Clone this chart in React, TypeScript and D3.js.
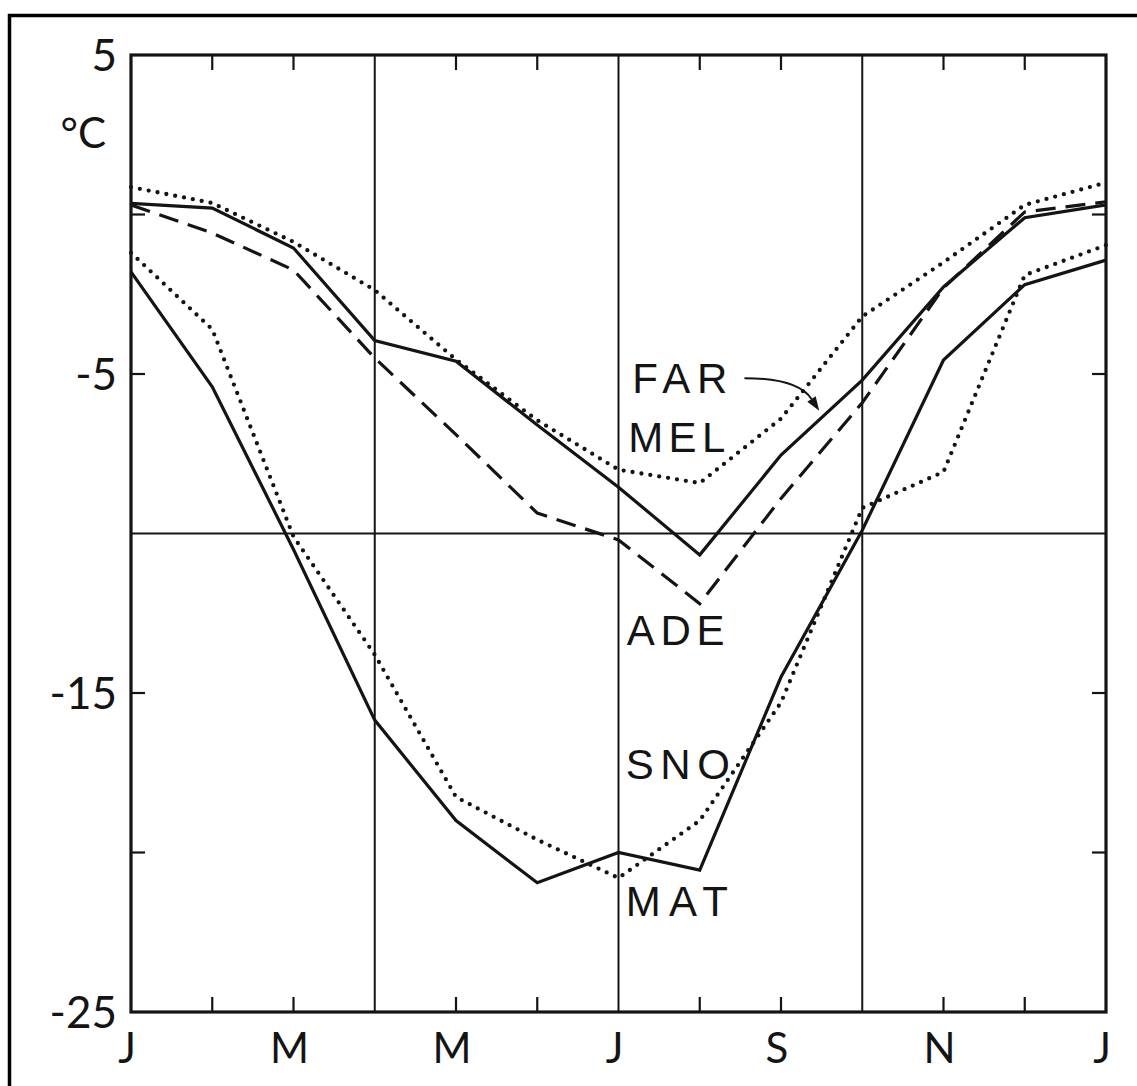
import React from "react";
import * as d3 from "d3";

// Months along the x axis (Jan .. Jan)
const months = ["J", "F", "M", "A", "M", "J", "J", "A", "S", "O", "N", "D", "J"];
const monthLabelIdx = [0, 2, 4, 6, 8, 10, 12];
const gridMonths = [3, 6, 9];
const minorMonthTicks = [1, 2, 4, 5, 7, 8, 10, 11];

// y axis
const yLabelValues = [5, -5, -15, -25];
const yTickValues = [0, -5, -15, -20];
const gridValues = [-10];

// Series (monthly mean temperature, °C)
const far = [0.35, 0.2, -1.05, -3.95, -4.6, -6.6, -8.55, -10.67, -7.54, -5.19, -2.27, -0.1, 0.3];
const mel = [0.86, 0.36, -0.86, -2.37, -4.55, -6.45, -8.0, -8.42, -6.4, -3.2, -1.5, 0.3, 1.0];
const ade = [0.3, -0.58, -1.74, -4.5, -6.9, -9.36, -10.2, -12.2, -8.9, -5.9, -2.3, 0.08, 0.4];
const sno = [-1.2, -3.6, -10.1, -13.8, -18.26, -19.6, -20.8, -19.0, -15.3, -9.2, -8.07, -1.9, -0.96];
const mat = [-1.8, -5.4, -10.5, -15.85, -19.0, -20.95, -20.0, -20.55, -14.5, -9.9, -4.56, -2.2, -1.43];

// Station labels: [month position, value at baseline]
const labelNames = ["FAR", "MEL", "ADE", "SNO", "MAT"];
const labelMonth = [6.17, 6.12, 6.1, 6.09, 6.09];
const labelValue = [-5.6, -7.45, -13.5, -17.7, -22.0];
const labelWidths = [95, 97, 98, 104, 102];

// FAR arrow (month, value) start / controls / end
const arrowPts = [
  [7.55, -5.13],
  [7.95, -5.13],
  [8.25, -5.3],
  [8.47, -6.15],
];

const W = 1137;
const H = 1086;

export default function App() {
  const x = d3.scaleLinear().domain([0, 12]).range([131, 1106]);
  const y = d3.scaleLinear().domain([-25, 5]).range([1012, 55]);
  const line = d3
    .line<number>()
    .x((_, i) => x(i))
    .y((d) => y(d));

  const font = "Lato, 'DejaVu Sans', sans-serif";
  const labelFont = "'Liberation Sans', Arial, sans-serif";
  const ink = "#141414";

  const [a0, a1, a2, a3] = arrowPts;
  const ex = x(a3[0]);
  const ey = y(a3[1]);
  const dx = ex - x(a2[0]);
  const dy = ey - y(a2[1]);
  const len = Math.hypot(dx, dy);
  const ux = dx / len;
  const uy = dy / len;
  const hl = 14;
  const hw = 5;
  const bx = ex - ux * hl;
  const by = ey - uy * hl;
  const head = `M${ex},${ey} L${bx - uy * hw},${by + ux * hw} L${bx + uy * hw},${by - ux * hw} Z`;
  const arrowCurve = `M${x(a0[0])},${y(a0[1])} C${x(a1[0])},${y(a1[1])} ${x(a2[0])},${y(a2[1])} ${bx},${by}`;

  return (
    <svg
      width={W}
      height={H}
      viewBox={`0 0 ${W} ${H}`}
      style={{ position: "absolute", left: 0, top: 0, background: "#fff" }}
    >
      <rect x={0} y={0} width={W} height={H} fill="#fff" />
      {/* outer frame (cropped at right and bottom) */}
      <path d={`M9.5,${H} V15.5 H${W}`} fill="none" stroke="#000" strokeWidth={3.5} />

      {/* grid lines */}
      {gridMonths.map((m) => (
        <line key={"gx" + m} x1={x(m)} x2={x(m)} y1={y(5)} y2={y(-25)} stroke={ink} strokeWidth={2} />
      ))}
      {gridValues.map((v) => (
        <line key={"gy" + v} x1={x(0)} x2={x(12)} y1={y(v)} y2={y(v)} stroke={ink} strokeWidth={2} />
      ))}

      {/* ticks */}
      {minorMonthTicks.map((m) => (
        <g key={"tm" + m}>
          <line x1={x(m)} x2={x(m)} y1={y(5)} y2={y(5) + 15} stroke={ink} strokeWidth={2.2} />
          <line x1={x(m)} x2={x(m)} y1={y(-25)} y2={y(-25) - 15} stroke={ink} strokeWidth={2.2} />
        </g>
      ))}
      {yTickValues.map((v) => (
        <g key={"tv" + v}>
          <line x1={x(0)} x2={x(0) + 14} y1={y(v)} y2={y(v)} stroke={ink} strokeWidth={2.2} />
          <line x1={x(12)} x2={x(12) - 14} y1={y(v)} y2={y(v)} stroke={ink} strokeWidth={2.2} />
        </g>
      ))}

      {/* plot border */}
      <rect
        x={x(0)}
        y={y(5)}
        width={x(12) - x(0)}
        height={y(-25) - y(5)}
        fill="none"
        stroke={ink}
        strokeWidth={3.2}
      />

      {/* series */}
      <path d={line(mel) || ""} fill="none" stroke={ink} strokeWidth={4.3} strokeDasharray="0 9" strokeLinecap="round" />
      <path d={line(sno) || ""} fill="none" stroke={ink} strokeWidth={4.3} strokeDasharray="0 9" strokeLinecap="round" />
      <path d={line(ade) || ""} fill="none" stroke={ink} strokeWidth={3.2} strokeDasharray="20 10" />
      <path d={line(far) || ""} fill="none" stroke={ink} strokeWidth={3.2} strokeLinejoin="miter" />
      <path d={line(mat) || ""} fill="none" stroke={ink} strokeWidth={3.2} strokeLinejoin="miter" />

      {/* FAR arrow */}
      <path d={arrowCurve} fill="none" stroke={ink} strokeWidth={2} />
      <path d={head} fill={ink} />

      {/* station labels */}
      {labelNames.map((n, i) => (
        <text
          key={n}
          x={x(labelMonth[i])}
          y={y(labelValue[i])}
          fontFamily={labelFont}
          fontSize={42}
          fill={ink}
          textLength={labelWidths[i]}
          lengthAdjust="spacing"
        >
          {n}
        </text>
      ))}

      {/* y axis labels */}
      {yLabelValues.map((v) => (
        <text
          key={"yl" + v}
          x={x(0) - 14}
          y={y(v) + 16}
          textAnchor="end"
          fontFamily={font}
          fontSize={44}
          fill={ink}
        >
          {v < 0 ? "-" + Math.abs(v) : String(v)}
        </text>
      ))}
      <text x={x(0) - 25} y={y(2.1)} textAnchor="end" fontFamily={font} fontSize={42} fill={ink}>
        °C
      </text>

      {/* x axis labels */}
      {monthLabelIdx.map((i) => (
        <text
          key={"ml" + i}
          x={x(i) - 4}
          y={1063}
          textAnchor="middle"
          fontFamily={font}
          fontSize={42}
          fill={ink}
        >
          {months[i]}
        </text>
      ))}
    </svg>
  );
}
